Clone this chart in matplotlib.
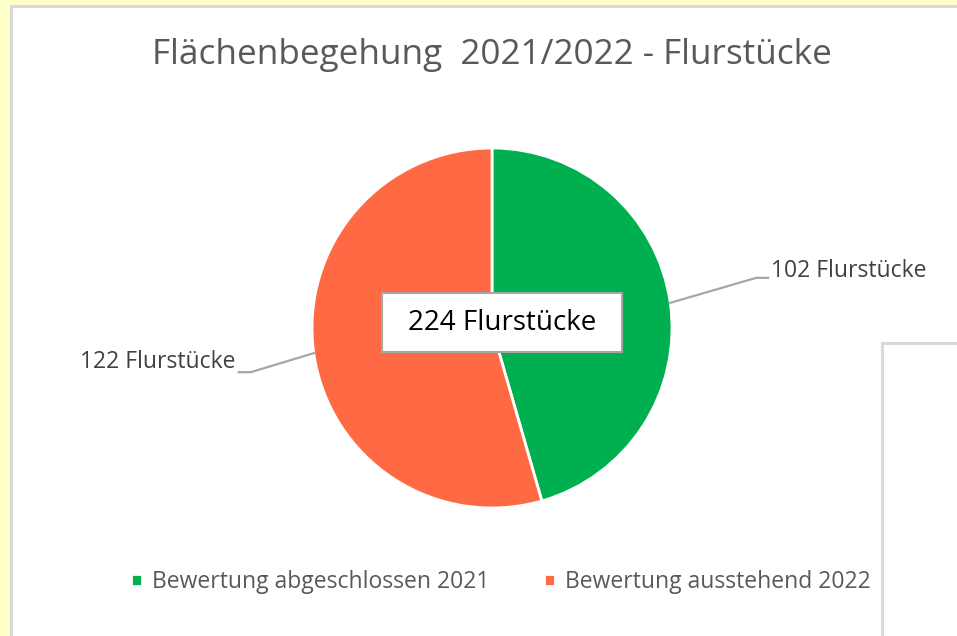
import matplotlib.pyplot as plt
from matplotlib.patches import Rectangle
import numpy as np

# data
categories = ["Bewertung abgeschlossen 2021", "Bewertung ausstehend 2022"]
values = [102, 122]
colors = ["#00B050", "#FF6A45"]
title = "Fl\u00e4chenbegehung  2021/2022 - Flurst\u00fccke"
unit = "Flurst\u00fccke"

W, H = 957, 636
plt.rcParams['font.family'] = ['Open Sans', 'DejaVu Sans']

fig = plt.figure(figsize=(W / 100, H / 100), dpi=100)
fig.patch.set_facecolor("#FFFFC9")
ax = fig.add_axes([0, 0, 1, 1])

def py(y):
    # image y (top-down) -> axes y
    return H - y

cx, cy, r = 492, py(328), 180
wedges, _ = ax.pie(values, colors=colors, startangle=90, counterclock=False,
                   center=(cx, cy), radius=r, frame=True,
                   wedgeprops=dict(edgecolor="white", linewidth=2))
ax.set_xlim(0, W)
ax.set_ylim(0, H)
ax.set_aspect("equal")
ax.axis("off")

# chart area and the second (cut off) chart box
ax.add_patch(Rectangle((11, py(700)), 1000, 694, facecolor="white",
                       edgecolor="#D9D9D9", linewidth=2.2, zorder=0))
ax.add_patch(Rectangle((882, py(700)), 200, 357, facecolor="white",
                       edgecolor="#D9D9D9", linewidth=2.2, zorder=1))

ax.text(cx, py(55), title, ha="center", va="center", fontsize=25.3,
        color="#595959")

# data labels with leader lines
offsets = [(101, -32), (-78, 9)]
for w, v, (dx, dy) in zip(wedges, values, offsets):
    ang = np.deg2rad((w.theta1 + w.theta2) / 2)
    px_, py_ = cx + r * np.cos(ang), cy + r * np.sin(ang)
    tx, ty = px_ + dx, py(py(py_) + dy)
    side = 1 if dx > 0 else -1
    ly = ty - 7 if side > 0 else ty - 10
    ax.plot([px_, tx - side * 15, tx - side * 3], [py_, ly, ly],
            color="#A6A6A6", linewidth=1.6, zorder=3)
    ax.text(tx, ty, "%d %s" % (v, unit), ha="left" if side > 0 else "right",
            va="center", fontsize=16.5, color="#404040")

# total in a box in the middle
ax.add_patch(Rectangle((382, py(352)), 240, 59, facecolor="white",
                       edgecolor="#A6A6A6", linewidth=1.5, zorder=4))
ax.text(502, py(323), "%d %s" % (sum(values), unit), ha="center",
        va="center", fontsize=20, color="black", zorder=5)

leg = ax.legend(wedges, categories, loc="center", ncol=2,
                bbox_to_anchor=(501 / W, 1 - 582 / H),
                bbox_transform=fig.transFigure, frameon=False,
                fontsize=16.5, handlelength=0.45, handleheight=0.45,
                handletextpad=0.45, columnspacing=2.4)
for t in leg.get_texts():
    t.set_color("#595959")

fig.savefig("out.png", dpi=100, facecolor=fig.get_facecolor())
